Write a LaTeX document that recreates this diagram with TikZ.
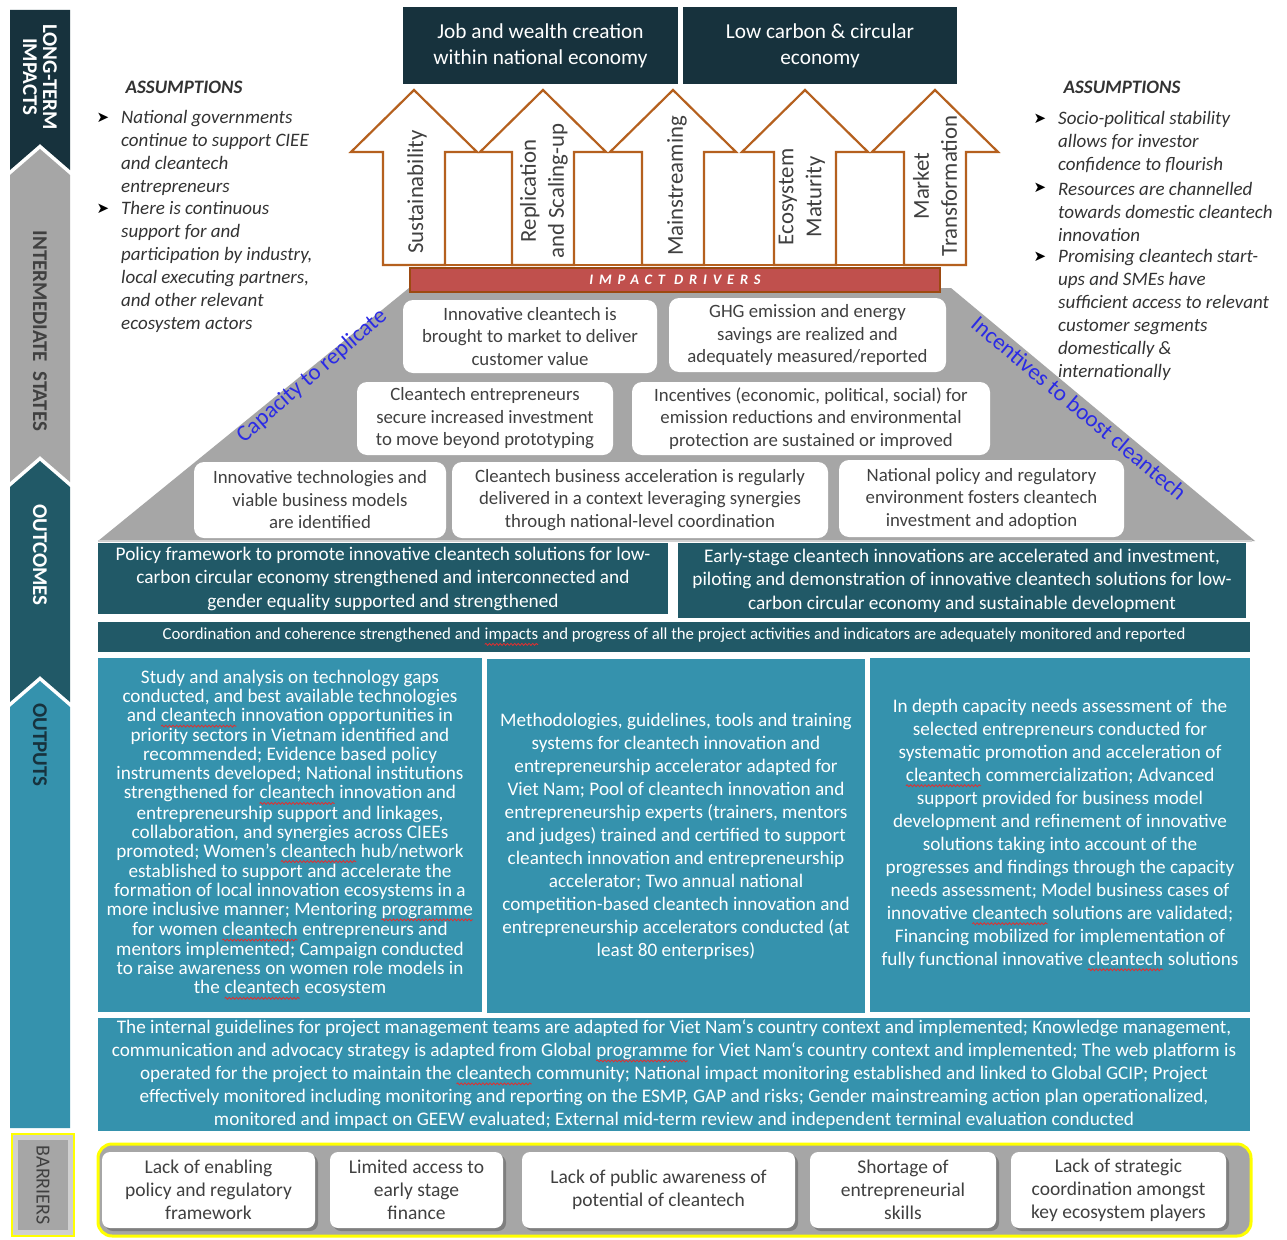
\documentclass[tikz,border=0pt]{standalone}
\usepackage{fontspec}
\setmainfont{Carlito}
\newfontfamily\dejavu{DejaVu Sans}
\usetikzlibrary{decorations.pathmorphing}
\definecolor{darknavy}{HTML}{17323D}
\definecolor{outteal}{HTML}{215967}
\definecolor{putteal}{HTML}{3592AD}
\definecolor{midgray}{HTML}{A6A6A6}
\definecolor{lightgray2}{HTML}{D0D0D0}
\definecolor{brownline}{HTML}{B5601E}
\definecolor{impred}{HTML}{C0504D}
\definecolor{impbrown}{HTML}{9C4A12}
\definecolor{textgray}{HTML}{404040}
\definecolor{asstext}{HTML}{333333}
\definecolor{bluetext}{HTML}{2B2BE6}
\definecolor{yel}{HTML}{FFFF00}
\definecolor{shadowgray}{HTML}{7F7F7F}
\definecolor{squig}{HTML}{E03030}
\newcommand\sqw[1]{\tikz[baseline=(sqwn.base),x=1pt,y=1pt]{\node[inner sep=0pt,outer sep=0pt,minimum width=0pt,minimum height=0pt,fill=none,draw=none,rounded corners=0pt,anchor=base] (sqwn) at (0,0) {#1};\draw[squig, line width=0.8pt, decorate, decoration={snake, segment length=3.6pt, amplitude=1pt}] ([yshift=-4.5pt]sqwn.base west) -- ([yshift=-4.5pt]sqwn.base east);}}
\begin{document}
\begin{tikzpicture}[x=1pt,y=-1pt,
  box/.style={inner sep=0pt, align=center},
  topbox/.style={box, fill=darknavy, text=white, font=\fontsize{21.3}{26}\selectfont},
  pyrbox/.style={box, fill=white, rounded corners=10pt, text=textgray, font=\fontsize{18.8}{22.5}\selectfont},
  outcbox/.style={box, fill=outteal, text=white, font=\fontsize{19.3}{23.5}\selectfont},
  outpbox/.style={box, fill=putteal, text=white, font=\fontsize{19.2}{23}\selectfont},
  barbox/.style={box, fill=white, rounded corners=8pt, text=textgray, font=\fontsize{19.5}{23}\selectfont},
  barshadow/.style={fill=shadowgray, rounded corners=8pt},
  arrowshape/.style={fill=white, draw=brownline, line width=2.2pt, line join=miter},
  arrowtext/.style={rotate=90, align=center, text=textgray, inner sep=0pt, font=\fontsize{22.8}{28}\selectfont},
  sidetext/.style={rotate=-90, align=center, inner sep=0pt, font=\fontsize{21}{20}\selectfont\bfseries},
  asshead/.style={text=asstext, inner sep=0pt, font=\fontsize{19}{20}\selectfont\bfseries\itshape},
  asstxt/.style={text=asstext, align=left, anchor=west, inner sep=0pt, font=\fontsize{19}{23}\selectfont\itshape},
  bulletmark/.style={text=black, inner sep=0pt, font=\dejavu\fontsize{15}{16}\selectfont},
  slanttext/.style={text=bluetext, inner sep=0pt, font=\fontsize{23}{26}\selectfont},
]
\useasboundingbox (0,0) rectangle (1287,1239);
\fill[white] (0,0) rectangle (1287,1239);

% ---------------- side bar ----------------
\fill[darknavy] (10,10) -- (70,10) -- (70,170) -- (40,144) -- (10,170) -- cycle;
\fill[midgray] (10,175) -- (40,149) -- (70,175) -- (70,482) -- (40,456) -- (10,482) -- cycle;
\fill[outteal] (10,487) -- (40,461) -- (70,487) -- (70,702) -- (40,676) -- (10,702) -- cycle;
\fill[putteal] (10,707) -- (40,681) -- (70,707) -- (70,1128) -- (10,1128) -- cycle;
\node[sidetext, text=white] (sLT) at (40,77) {LONG-TERM\\IMPACTS};
\node[sidetext, text=textgray] (sIS) at (40,331) {INTERMEDIATE\ \ STATES};
\node[sidetext, text=white] (sOC) at (40,555) {OUTCOMES};
\node[sidetext, text=darknavy] (sOP) at (40,745) {OUTPUTS};
\fill[yel] (11,1133) rectangle (75,1237);
\fill[lightgray2] (13,1135) rectangle (73,1235);
\fill[midgray] (18,1140) rectangle (68,1230);
\node[sidetext, font=\fontsize{20}{20}\selectfont, text=textgray] (sBR) at (43,1185) {BARRIERS};

% ---------------- long-term impacts ----------------
\node[topbox, minimum width=275, minimum height=77] (job) at (540.5,45.5) {Job and wealth creation\\within national economy};
\node[topbox, minimum width=274, minimum height=77] (low) at (820,45.5) {Low carbon \& circular\\economy};

% ---------------- assumptions ----------------
\node[asshead] (ahL) at (184,87) {ASSUMPTIONS};
\node[bulletmark] (bl1) at (103,118) {➤};
\node[asstxt] (al1) at (121,152.5) {National governments\\continue to support CIEE\\and cleantech\\entrepreneurs};
\node[bulletmark] (bl2) at (103,209) {➤};
\node[asstxt] (al2) at (121,266.5) {There is continuous\\support for and\\participation by industry,\\local executing partners,\\and other relevant\\ecosystem actors};

\node[asshead] (ahR) at (1122,87) {ASSUMPTIONS};
\node[bulletmark] (br1) at (1040,119) {➤};
\node[asstxt] (ar1) at (1058,142.5) {Socio-political stability\\allows for investor\\confidence to flourish};
\node[bulletmark] (br2) at (1040,188) {➤};
\node[asstxt] (ar2) at (1058,211.5) {Resources are channelled\\towards domestic cleantech\\innovation};
\node[bulletmark] (br3) at (1040,257) {➤};
\node[asstxt] (ar3) at (1058,314.5) {Promising cleantech start-\\ups and SMEs have\\sufficient access to relevant\\customer segments\\domestically \&\\internationally};

% ---------------- pyramid ----------------
\fill[midgray] (409,288) -- (951,288) -- (1255,541) -- (98,541) -- cycle;
\draw[lightgray2, line width=1.5pt] (98,541) -- (1252,541);

\node[pyrbox, minimum width=254, minimum height=73] (p11) at (530,336.5) {Innovative cleantech is\\brought to market to deliver\\customer value};
\node[pyrbox, minimum width=277, minimum height=74] (p12) at (807.5,335) {GHG emission and energy\\savings are realized and\\adequately measured/reported};
\node[pyrbox, minimum width=256, minimum height=73] (p21) at (485,418.5) {Cleantech entrepreneurs\\secure increased investment\\to move beyond prototyping};
\node[pyrbox, minimum width=358, minimum height=73] (p22) at (811,418.5) {Incentives (economic, political, social) for\\emission reductions and environmental\\protection are sustained or improved};
\node[pyrbox, minimum width=252, minimum height=76] (p31) at (320,500) {Innovative technologies and\\viable business models\\are identified};
\node[pyrbox, minimum width=376, minimum height=76] (p32) at (640,500) {Cleantech business acceleration is regularly\\delivered in a context leveraging synergies\\through national-level coordination};
\node[pyrbox, minimum width=285, minimum height=77] (p33) at (981.5,498.5) {National policy and regulatory\\environment fosters cleantech\\investment and adoption};

\node[slanttext, rotate=41] (cap) at (312,376) {Capacity to replicate};
\node[slanttext, rotate=-40] (inc) at (1079,408) {Incentives to boost cleantech};

% ---------------- impact drivers ----------------
\foreach \c in {414,543,673,805,935}
  \filldraw[arrowshape] (\c-31,265) -- (\c-31,152) -- (\c-63,152) -- (\c,90) -- (\c+63,152) -- (\c+31,152) -- (\c+31,265) -- cycle;
\draw[brownline, line width=2.2pt] (383,265) -- (966,265);
\node[arrowtext] (a1) at (417,192) {Sustainability};
\node[arrowtext] (a2) at (544,191) {Replication\\and Scaling-up};
\node[arrowtext] (a3) at (677,186) {Mainstreaming};
\node[arrowtext] (a4) at (802,197) {Ecosystem\\Maturity};
\node[arrowtext] (a5) at (935,186) {Market\\Transformation};

\node[minimum width=530, minimum height=24, fill=impred, draw=impbrown, line width=1.5pt, inner sep=0pt, text=white,
      font=\fontsize{14.5}{15}\selectfont\bfseries\itshape\addfontfeature{LetterSpace=40}] (imp) at (675,280) {IMPACT DRIVERS};

% ---------------- outcomes ----------------
\node[outcbox, minimum width=570, minimum height=71] (oc1) at (383,578.5) {Policy framework to promote innovative cleantech solutions for low-\\carbon circular economy strengthened and interconnected and\\gender equality supported and strengthened};
\node[outcbox, minimum width=568, minimum height=75] (oc2) at (962,580.5) {Early-stage cleantech innovations are accelerated and investment,\\piloting and demonstration of innovative cleantech solutions for low-\\carbon circular economy and sustainable development};
\node[box, fill=outteal, text=white, minimum width=1152, minimum height=30, font=\fontsize{16.8}{19}\selectfont] (coord) at (674,637) {Coordination and coherence strengthened and \sqw{impacts} and progress of all the project activities and indicators are adequately monitored and reported};

% ---------------- outputs ----------------
\node[outpbox, minimum width=384, minimum height=354, font=\fontsize{19.2}{19}\selectfont] (op1) at (290,835) {Study and analysis on technology gaps\\conducted, and best available technologies\\and \sqw{cleantech} innovation opportunities in\\priority sectors in Vietnam identified and\\recommended; Evidence based policy\\instruments developed; National institutions\\strengthened for \sqw{cleantech} innovation and\\entrepreneurship support and linkages,\\collaboration, and synergies across CIEEs\\promoted; Women's \sqw{cleantech} hub/network\\established to support and accelerate the\\formation of local innovation ecosystems in a\\more inclusive manner; Mentoring \sqw{programme}\\for women \sqw{cleantech} entrepreneurs and\\mentors implemented; Campaign conducted\\to raise awareness on women role models in\\the \sqw{cleantech} ecosystem};
\node[outpbox, minimum width=378, minimum height=354] (op2) at (676,836) {Methodologies, guidelines, tools and training\\systems for cleantech innovation and\\entrepreneurship accelerator adapted for\\Viet Nam; Pool of cleantech innovation and\\entrepreneurship experts (trainers, mentors\\and judges) trained and certified to support\\cleantech innovation and entrepreneurship\\accelerator; Two annual national\\competition-based cleantech innovation and\\entrepreneurship accelerators conducted (at\\least 80 enterprises)};
\node[outpbox, minimum width=380, minimum height=354] (op3) at (1060,835) {In depth capacity needs assessment of \ the\\selected entrepreneurs conducted for\\systematic promotion and acceleration of\\\sqw{cleantech} commercialization; Advanced\\support provided for business model\\development and refinement of innovative\\solutions taking into account of the\\progresses and findings through the capacity\\needs assessment; Model business cases of\\innovative \sqw{cleantech} solutions are validated;\\Financing mobilized for implementation of\\fully functional innovative \sqw{cleantech} solutions};
\node[outpbox, minimum width=1152, minimum height=113] (op4) at (674,1074) {The internal guidelines for project management teams are adapted for Viet Nam`s country context and implemented; Knowledge management,\\communication and advocacy strategy is adapted from Global \sqw{programme} for Viet Nam`s country context and implemented; The web platform is\\operated for the project to maintain the \sqw{cleantech} community; National impact monitoring established and linked to Global GCIP; Project\\effectively monitored including monitoring and reporting on the ESMP, GAP and risks; Gender mainstreaming action plan operationalized,\\monitored and impact on GEEW evaluated; External mid-term review and independent terminal evaluation conducted};

% ---------------- barriers ----------------
\filldraw[fill=midgray, draw=yel, line width=3pt, rounded corners=14pt] (98,1144) rectangle (1251,1236);
\foreach \c/\w in {208.5/213, 416.5/173, 658.5/273, 903/186, 1118.5/215}
  \fill[barshadow] (\c-\w/2+3,1155) rectangle (\c+\w/2+3,1231);
\node[barbox, minimum width=213, minimum height=76] (b1) at (208.5,1190) {Lack of enabling\\policy and regulatory\\framework};
\node[barbox, minimum width=173, minimum height=76] (b2) at (416.5,1190) {Limited access to\\early stage\\finance};
\node[barbox, minimum width=273, minimum height=76] (b3) at (658.5,1190) {Lack of public awareness of\\potential of cleantech};
\node[barbox, minimum width=186, minimum height=76] (b4) at (903,1190) {Shortage of\\entrepreneurial\\skills};
\node[barbox, minimum width=215, minimum height=76] (b5) at (1118.5,1190) {Lack of strategic\\coordination amongst\\key ecosystem players};
\end{tikzpicture}
\end{document}
